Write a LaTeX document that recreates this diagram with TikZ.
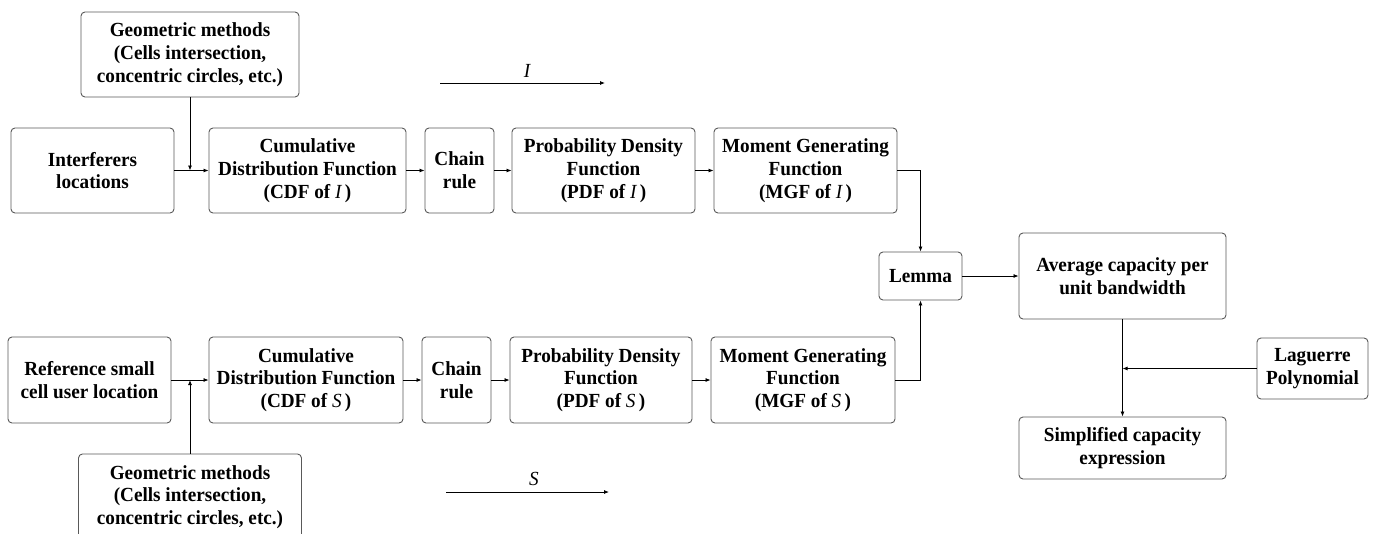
\documentclass[tikz,border=0pt]{standalone}
\usepackage{fontspec}
\setmainfont{Liberation Serif}[FakeStretch=0.96]
\usetikzlibrary{arrows.meta}
\newcommand{\vI}{{\mdseries\itshape I}\,}
\newcommand{\vS}{{\mdseries\itshape S}\,}
\tikzset{
  box/.style={draw=black!65, line width=0.9pt, rounded corners=4pt, align=center,
    font=\fontsize{20}{22.8}\selectfont\bfseries, inner sep=0pt},
  conn/.style={line width=0.8pt, -{Latex[length=5pt,width=4pt]}},
  plain/.style={line width=0.8pt},
  lbl/.style={font=\fontsize{20}{22.8}\selectfont\itshape, inner sep=0pt}
}
\begin{document}
\begin{tikzpicture}[x=1pt,y=-1pt]
\useasboundingbox (0,0) rectangle (1378,533);
% top row
\node[box, minimum width=218pt, minimum height=85pt] (geo1) at (190,54.5) {Geometric methods\\(Cells intersection,\\concentric circles, etc.)};
\node[box, minimum width=163pt, minimum height=85pt] (intf) at (92.5,170.5) {Interferers\\locations};
\node[box, minimum width=197pt, minimum height=85pt] (cdf1) at (307.5,170.5) {Cumulative\\Distribution Function\\(CDF of \vI)};
\node[box, minimum width=69pt, minimum height=85pt] (chain1) at (459.5,170.5) {Chain\\rule};
\node[box, minimum width=183pt, minimum height=85pt] (pdf1) at (603.5,170.5) {Probability Density\\Function\\(PDF of \vI)};
\node[box, minimum width=183pt, minimum height=85pt] (mgf1) at (805.5,170.5) {Moment Generating\\Function\\(MGF of \vI)};
% bottom row
\node[box, minimum width=163pt, minimum height=86pt] (ref) at (89.5,380) {Reference small\\cell user location};
\node[box, minimum width=194pt, minimum height=86pt] (cdf2) at (306,380) {Cumulative\\Distribution Function\\(CDF of \vS)};
\node[box, minimum width=69pt, minimum height=86pt] (chain2) at (456.5,380) {Chain\\rule};
\node[box, minimum width=182pt, minimum height=86pt] (pdf2) at (601,380) {Probability Density\\Function\\(PDF of \vS)};
\node[box, minimum width=184pt, minimum height=86pt] (mgf2) at (803,380) {Moment Generating\\Function\\(MGF of \vS)};
\node[box, minimum width=223pt, minimum height=86pt] (geo2) at (190,497) {Geometric methods\\(Cells intersection,\\concentric circles, etc.)};
% right part
\node[box, minimum width=83pt, minimum height=48pt] (lemma) at (920.5,276) {Lemma};
\node[box, minimum width=207pt, minimum height=86pt] (avg) at (1122.5,276) {Average capacity per\\unit bandwidth};
\node[box, minimum width=111pt, minimum height=61pt] (lag) at (1312.5,368.5) {Laguerre\\Polynomial};
\node[box, minimum width=207pt, minimum height=62pt] (simp) at (1122.5,448) {Simplified capacity\\expression};
% connectors top
\coordinate (j1) at (geo1.south |- intf.east);
\draw[conn] (geo1.south) -- (j1);
\draw[conn] (intf.east) -- (cdf1.west);
\draw[conn] (cdf1.east) -- (chain1.west);
\draw[conn] (chain1.east) -- (pdf1.west);
\draw[conn] (pdf1.east) -- (mgf1.west);
\draw[conn] (mgf1.east) -| (lemma.north);
% connectors bottom
\coordinate (j2) at (geo2.north |- ref.east);
\draw[conn] (geo2.north) -- (j2);
\draw[conn] (ref.east) -- (cdf2.west);
\draw[conn] (cdf2.east) -- (chain2.west);
\draw[conn] (chain2.east) -- (pdf2.west);
\draw[conn] (pdf2.east) -- (mgf2.west);
\draw[conn] (mgf2.east) -| (lemma.south);
% right
\draw[conn] (lemma.east) -- (avg.west);
\draw[conn] (avg.south) -- (simp.north);
\coordinate (j3) at (avg.south |- lag.west);
\draw[conn] (lag.west) -- (j3);
% I and S arrows
\coordinate (ia) at (440,83);
\coordinate (ib) at (605,83);
\draw[conn] (ia) -- (ib);
\node[lbl] (il) at (527,71) {I};
\coordinate (sa) at (446,492);
\coordinate (sb) at (609,492);
\draw[conn] (sa) -- (sb);
\node[lbl] (sl) at (534,479) {S};
\end{tikzpicture}
\end{document}
